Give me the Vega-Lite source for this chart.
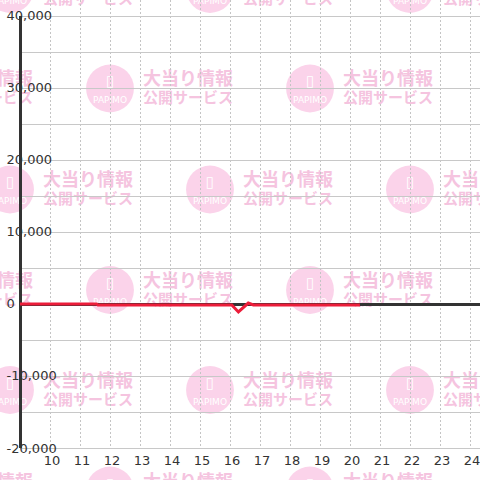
{
  "$schema": "https://vega.github.io/schema/vega-lite/v6.json",
  "width": 460,
  "height": 448,
  "autosize": {"type": "none"},
  "padding": {"left": 20, "top": 0, "right": 0, "bottom": 32},
  "background": "white",
  "config": {
    "view": {"stroke": null},
    "axisX": {
      "grid": false, "domain": false, "ticks": false, "tickSize": 0,
      "labelPadding": 6, "labelOffset": 1.5, "labelFont": "DejaVu Sans", "labelFontSize": 13,
      "labelColor": "#333333", "labelOverlap": false, "labelFlush": false, "labelBound": false
    },
    "axisY": {
      "grid": false, "domain": false, "ticks": false, "tickSize": 0,
      "labelAlign": "left", "labelBaseline": "middle", "labelPadding": 14,
      "labelFont": "DejaVu Sans", "labelFontSize": 13, "labelColor": "#333333",
      "labelOverlap": false, "labelFlush": false, "labelBound": false
    }
  },
  "datasets": {
    "line": [
      {"h": 9, "v": 0},
      {"h": 11.55, "v": 0},
      {"h": 11.6, "v": -130},
      {"h": 16.06, "v": -140},
      {"h": 16.28, "v": -1100},
      {"h": 16.61, "v": 130},
      {"h": 16.78, "v": -140},
      {"h": 20.33, "v": -140}
    ],
    "wm": [
      {"h": 8.667, "v": 43750}, {"h": 15.333, "v": 43750}, {"h": 22, "v": 43750},
      {"h": 5.333, "v": 29931}, {"h": 12, "v": 29931}, {"h": 18.667, "v": 29931},
      {"h": 8.667, "v": 15903}, {"h": 15.333, "v": 15903}, {"h": 22, "v": 15903},
      {"h": 5.333, "v": 1944}, {"h": 12, "v": 1944}, {"h": 18.667, "v": 1944},
      {"h": 8.667, "v": -11944}, {"h": 15.333, "v": -11944}, {"h": 22, "v": -11944},
      {"h": 5.333, "v": -25903}, {"h": 12, "v": -25903}, {"h": 18.667, "v": -25903}
    ],
    "vgrid": [
      {"h": 10}, {"h": 11}, {"h": 12}, {"h": 13}, {"h": 14}, {"h": 15}, {"h": 16}, {"h": 17},
      {"h": 18}, {"h": 19}, {"h": 20}, {"h": 21}, {"h": 22}, {"h": 23}, {"h": 24}
    ],
    "hgrid": [
      {"v": -20000}, {"v": -15000}, {"v": -10000}, {"v": -5000}, {"v": 5000}, {"v": 10000},
      {"v": 15000}, {"v": 20000}, {"v": 25000}, {"v": 30000}, {"v": 35000}, {"v": 40000}
    ]
  },
  "layer": [
    {
      "data": {"name": "wm"},
      "mark": {"type": "circle", "size": 2290, "color": "#fbd3ea", "opacity": 1},
      "encoding": {
        "x": {"field": "h", "type": "quantitative", "scale": {"domain": [9, 24.3333], "nice": false, "zero": false}, "axis": {"title": null, "zindex": 1, "format": "d", "values": [10, 11, 12, 13, 14, 15, 16, 17, 18, 19, 20, 21, 22, 23, 24]}},
        "y": {"field": "v", "type": "quantitative", "scale": {"domain": [-20000, 42222.2], "nice": false, "zero": false}, "axis": {"title": null, "zindex": 1, "values": [-20000, -10000, 0, 10000, 20000, 30000, 40000], "labelExpr": "replace(format(datum.value, ','), '−', '-')"}}
      }
    },
    {
      "data": {"name": "wm"},
      "mark": {"type": "text", "text": "大当り情報", "align": "left", "baseline": "middle", "dx": 33, "dy": -8, "font": "Noto Sans CJK JP", "fontWeight": "bold", "fontSize": 18, "color": "#f5c4df"},
      "encoding": {
        "x": {"field": "h", "type": "quantitative", "scale": {"domain": [9, 24.3333], "nice": false, "zero": false}, "axis": {"title": null, "zindex": 1, "format": "d", "values": [10, 11, 12, 13, 14, 15, 16, 17, 18, 19, 20, 21, 22, 23, 24]}},
        "y": {"field": "v", "type": "quantitative", "scale": {"domain": [-20000, 42222.2], "nice": false, "zero": false}, "axis": {"title": null, "zindex": 1, "values": [-20000, -10000, 0, 10000, 20000, 30000, 40000], "labelExpr": "replace(format(datum.value, ','), '−', '-')"}}
      }
    },
    {
      "data": {"name": "wm"},
      "mark": {"type": "text", "text": "公開サービス", "align": "left", "baseline": "middle", "dx": 33, "dy": 10, "font": "Noto Sans CJK JP", "fontWeight": "bold", "fontSize": 15, "color": "#f5c4df"},
      "encoding": {
        "x": {"field": "h", "type": "quantitative", "scale": {"domain": [9, 24.3333], "nice": false, "zero": false}, "axis": {"title": null, "zindex": 1, "format": "d", "values": [10, 11, 12, 13, 14, 15, 16, 17, 18, 19, 20, 21, 22, 23, 24]}},
        "y": {"field": "v", "type": "quantitative", "scale": {"domain": [-20000, 42222.2], "nice": false, "zero": false}, "axis": {"title": null, "zindex": 1, "values": [-20000, -10000, 0, 10000, 20000, 30000, 40000], "labelExpr": "replace(format(datum.value, ','), '−', '-')"}}
      }
    },
    {
      "data": {"name": "wm"},
      "mark": {"type": "text", "text": "PAPIMO", "align": "center", "baseline": "middle", "dy": 12, "font": "DejaVu Sans", "fontSize": 9, "color": "white"},
      "encoding": {
        "x": {"field": "h", "type": "quantitative", "scale": {"domain": [9, 24.3333], "nice": false, "zero": false}, "axis": {"title": null, "zindex": 1, "format": "d", "values": [10, 11, 12, 13, 14, 15, 16, 17, 18, 19, 20, 21, 22, 23, 24]}},
        "y": {"field": "v", "type": "quantitative", "scale": {"domain": [-20000, 42222.2], "nice": false, "zero": false}, "axis": {"title": null, "zindex": 1, "values": [-20000, -10000, 0, 10000, 20000, 30000, 40000], "labelExpr": "replace(format(datum.value, ','), '−', '-')"}}
      }
    },
    {
      "data": {"name": "wm"},
      "mark": {"type": "text", "text": "▯", "align": "center", "baseline": "middle", "dy": -7, "font": "DejaVu Sans", "fontSize": 15, "color": "white"},
      "encoding": {
        "x": {"field": "h", "type": "quantitative", "scale": {"domain": [9, 24.3333], "nice": false, "zero": false}, "axis": {"title": null, "zindex": 1, "format": "d", "values": [10, 11, 12, 13, 14, 15, 16, 17, 18, 19, 20, 21, 22, 23, 24]}},
        "y": {"field": "v", "type": "quantitative", "scale": {"domain": [-20000, 42222.2], "nice": false, "zero": false}, "axis": {"title": null, "zindex": 1, "values": [-20000, -10000, 0, 10000, 20000, 30000, 40000], "labelExpr": "replace(format(datum.value, ','), '−', '-')"}}
      }
    },
    {
      "data": {"name": "vgrid"},
      "mark": {"type": "rule", "color": "#c4c4c4", "strokeWidth": 1, "strokeDash": [2, 2], "xOffset": 0.5},
      "encoding": {
        "x": {"field": "h", "type": "quantitative", "scale": {"domain": [9, 24.3333], "nice": false, "zero": false}, "axis": {"title": null, "zindex": 1, "format": "d", "values": [10, 11, 12, 13, 14, 15, 16, 17, 18, 19, 20, 21, 22, 23, 24]}}
      }
    },
    {
      "data": {"name": "hgrid"},
      "mark": {"type": "rule", "color": "#c8c8c8", "strokeWidth": 1, "yOffset": 0.5},
      "encoding": {
        "y": {"field": "v", "type": "quantitative", "scale": {"domain": [-20000, 42222.2], "nice": false, "zero": false}, "axis": {"title": null, "zindex": 1, "values": [-20000, -10000, 0, 10000, 20000, 30000, 40000], "labelExpr": "replace(format(datum.value, ','), '−', '-')"}}
      }
    },
    {
      "data": {"values": [{}]},
      "mark": {"type": "rule", "color": "#333333", "strokeWidth": 3, "xOffset": 0.5},
      "encoding": {
        "x": {"datum": 9, "type": "quantitative", "scale": {"domain": [9, 24.3333], "nice": false, "zero": false}, "axis": {"title": null, "zindex": 1, "format": "d", "values": [10, 11, 12, 13, 14, 15, 16, 17, 18, 19, 20, 21, 22, 23, 24]}},
        "y": {"datum": -20000, "type": "quantitative", "scale": {"domain": [-20000, 42222.2], "nice": false, "zero": false}, "axis": {"title": null, "zindex": 1, "values": [-20000, -10000, 0, 10000, 20000, 30000, 40000], "labelExpr": "replace(format(datum.value, ','), '−', '-')"}},
        "y2": {"datum": 40000}
      }
    },
    {
      "data": {"values": [{}]},
      "mark": {"type": "rule", "color": "#333333", "strokeWidth": 3, "yOffset": 0.5},
      "encoding": {
        "y": {"datum": 0, "type": "quantitative", "scale": {"domain": [-20000, 42222.2], "nice": false, "zero": false}, "axis": {"title": null, "zindex": 1, "values": [-20000, -10000, 0, 10000, 20000, 30000, 40000], "labelExpr": "replace(format(datum.value, ','), '−', '-')"}}
      }
    },
    {
      "data": {"name": "line"},
      "mark": {"type": "line", "color": "#ec1d3a", "strokeWidth": 3, "clip": false},
      "encoding": {
        "x": {"field": "h", "type": "quantitative", "scale": {"domain": [9, 24.3333], "nice": false, "zero": false}, "axis": {"title": null, "zindex": 1, "format": "d", "values": [10, 11, 12, 13, 14, 15, 16, 17, 18, 19, 20, 21, 22, 23, 24]}},
        "y": {"field": "v", "type": "quantitative", "scale": {"domain": [-20000, 42222.2], "nice": false, "zero": false}, "axis": {"title": null, "zindex": 1, "values": [-20000, -10000, 0, 10000, 20000, 30000, 40000], "labelExpr": "replace(format(datum.value, ','), '−', '-')"}}
      }
    }
  ]
}
